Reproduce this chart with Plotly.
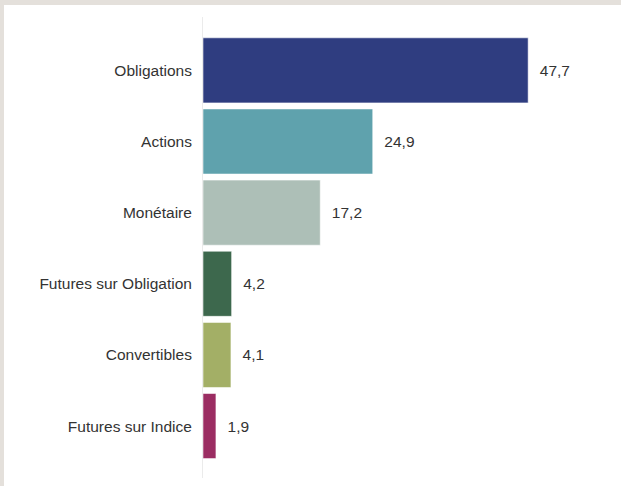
import plotly.graph_objects as go

# Répartition par type d'instrument (%)
categories = [
    "Obligations",
    "Actions",
    "Monétaire",
    "Futures sur Obligation",
    "Convertibles",
    "Futures sur Indice",
]
values = [47.7, 24.9, 17.2, 4.2, 4.1, 1.9]
labels = ["47,7", "24,9", "17,2", "4,2", "4,1", "1,9"]
colors = ["#2f3d80", "#5fa2ad", "#adbfb7", "#3d684d", "#a3af66", "#9b2d62"]

W, H = 621, 486
L, R, T, B = 203, 9, 17, 8
pw, ph = W - L - R, H - T - B
FONT = "Liberation Sans, Arial, sans-serif"

fig = go.Figure()

fig.add_trace(go.Bar(
    x=values,
    y=categories,
    orientation="h",
    marker=dict(color=colors, line=dict(color="rgba(255,255,255,0.55)", width=1)),
    text=labels,
    texttemplate="\u00a0\u00a0%{text}",
    textposition="outside",
    textfont=dict(family=FONT, size=15.5, color="#333333"),
    cliponaxis=False,
    showlegend=False,
    hoverinfo="skip",
))

# cadre gris (haut et gauche), fond blanc par-dessus
fig.add_shape(
    type="rect", xref="paper", yref="paper", layer="below",
    x0=(4 - L) / pw, x1=(W + 10 - L) / pw,
    y0=(T + ph - (H + 20)) / ph, y1=(T + ph - 5) / ph,
    fillcolor="white", line=dict(width=0),
)

fig.update_layout(
    width=W,
    height=H,
    margin=dict(l=L, r=R, t=T, b=B, pad=0),
    paper_bgcolor="#e4e0db",
    plot_bgcolor="rgba(0,0,0,0)",
    bargap=0.085,
    font=dict(family=FONT, size=15.5, color="#333333"),
    xaxis=dict(
        range=[0, 60],
        showgrid=False,
        showticklabels=False,
        zeroline=False,
        showline=False,
        fixedrange=True,
    ),
    yaxis=dict(
        categoryorder="array",
        categoryarray=categories,
        range=[5.73, -0.75],
        showgrid=False,
        zeroline=False,
        showline=True,
        linecolor="#ebebeb",
        linewidth=1,
        ticks="",
        ticklabelstandoff=7,
        tickfont=dict(size=15.5, color="#333333"),
        fixedrange=True,
    ),
)

fig.write_html(
    "out.html",
    config={"displayModeBar": False},
    post_script="document.body.style.margin='0';",
)
